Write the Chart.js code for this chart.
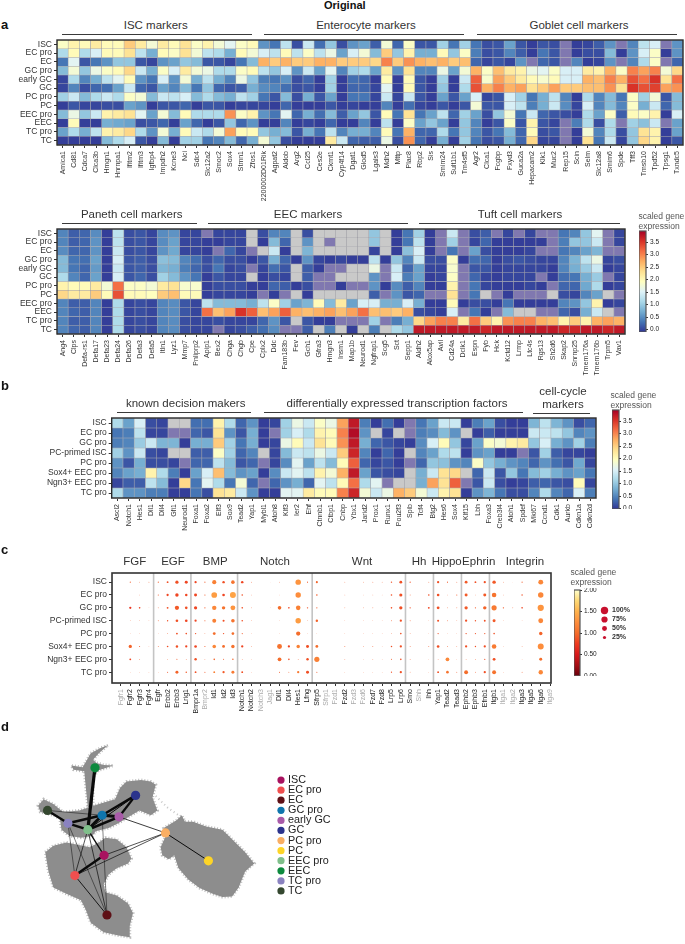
<!DOCTYPE html>
<html>
<head>
  <style>
    body { margin: 0; background: #fff; font-family: "Liberation Sans", Arial, sans-serif; color: #333; }
    #page { position: relative; width: 685px; height: 944px; overflow: hidden; }
    canvas { position: absolute; }
    .note { position: absolute; white-space: nowrap; line-height: 1; }
    .head { font-size: 11.5px; transform: translateX(-50%); }
    .rule { position: absolute; height: 1.4px; background: #3a3a3a; }
    .letter { font-size: 13px; font-weight: bold; color: #111; }
    .cbar { font-size: 8.5px; color: #555; line-height: 10.4px; white-space: pre; }
  </style>
  <script src="https://cdn.jsdelivr.net/npm/chart.js"></script>
</head>
<body>
<div id="page"></div>
<script>
  // G = grey cell (not detected), P = purple cell
  const G = -1, P = -2;

  const cellTypes = ['ISC', 'EC pro', 'EC', 'GC pro', 'early GC', 'GC', 'PC pro', 'PC', 'EEC pro', 'EEC', 'TC pro', 'TC'];
  const progenitors = ['ISC', 'EC pro', 'GC pro', 'PC-primed ISC', 'PC pro', 'Sox4+ EEC pro', 'Ngn3+ EEC pro', 'TC pro'];

  const genesTop = ['Amica1','Cd81','Cdca7','Clca3b','Hmgn1','Hnrnpa1','Ifitm2','Ifitm3','Igfbp4','Impdh2','Kcne3','Nci','Sdc4','Slc12a2','Smoc2','Sox4','Stmn1','Zfos1',
    '2200002D01Rik','Agpat2','Aldob','Arg2','Ccl25','Ces2e','Ckmt1','Cyp4f14','Dgat1','Glod5','Lgals3','Mdh2','Mttp','Plac8','Rbp2','Sis','Smim24','Sult1b1','Tm4sf5',
    'Agr2','Clca1','Fcgbp','Fxyd3','Guca2a','Hepacam2','Klk1','Muc2','Rep15','Scin','Selm','Slc12a8','Smim6','Spde','Tff3','Tmsb10','Tpd52','Tpsg1','Txndc5'];

  const genesBottom = ['Ang4','Clps','Defa-rs1','Defa17','Defa23','Defa24','Defa26','Defa3','Defa5','Itln1','Lyz1','Mmp7','Pnliprp2',
    'Apip1','Bex2','Chga','Chgb','Cpe','Cplx2','Ddc','Fam183b','Fev','Gch1','Gfra3','Hmgn3','Insm1','Map1b','Neurod1','Ngfrap1','Scg5','Sct','Sepp1',
    'Aldh2','Alox5ap','Avil','Cd24a','Dclk1','Espn','Fyb','Hck','Kctd12','Lrmp','Ltc4s','Rgs13','Sh2d6','Skap2','Snrnp25','Tmem176a','Tmem176b','Trpm5','Vav1'];

  const genesB = ['Ascl2','Notch1','Hes1','Dll1','Dll4','Gfi1','Neurod1','Foxa1','Foxa2','Elf3','Sox9','Tead2','Yap1',
    'Mybl1','Atoh8','Klf3','Ier2','Ehf','Ctnnb1','Ctbp1','Cnbp','Ybx1','Jarid2','Prox1','Runx1','Pou2f3','Spib','Tcf4','Btg2','Hes6','Sox4','Klf15','Lbh','Foxa3','Creb3l4','Atoh1','Spdef',
    'Mki67','Ccnd1','Cdk1','Aurkb','Cdkn1a','Cdkn2d'];

  const genesC = ['Fgfr1','Fgfr2','Fgfr3','Fgfr4','Egfr','Erbb2','Erbb3','Lrig1','Bmpr1a','Bmpr2','Id1','Id2','Id3','Notch1','Notch2','Notch3','Jag1','Dll1','Dll4','Hes1','Lfng',
    'Sfrp5','Sfrp1','Fzd1','Fzd2','Fzd3','Fzd6','Fzd7','Fzd8','Lrp5','Lrp6','Smo','Shh','Ihh','Yap1','Tead2','Tead3','Ephb2','Ephb3','Efnb1','Itgb1','Itga1','Itga2','Itga3','Itga5','Itga6','Itga9'];
  const fadedC = ['Fgfr1','Bmpr2','Notch3','Jag1','Sfrp1','Fzd1','Fzd3','Fzd6','Shh','Itga1','Itga2','Itga9'];
  const groupBreaksC = [3.5, 7.5, 12.5, 20.5, 30.5, 33.5, 36.5, 39.5];

  // panel a, upper heatmap: ISC markers | enterocyte markers | goblet markers
  const exprTop = [
    [1.9,2.1,2.0,2.2,2.0,2.0,2.5,2.2,1.8,2.2,2.0,2.3,1.9,2.1,1.8,1.6,1.9,2.0, 0.6,0.4,1.3,0.15,1.4,0.35,1.0,0.15,0.6,0.7,0.25,1.8,0.3,1.9,0.2,0.2,1.1,0.4,1.1, 0.4,0.15,0.2,0.7,0.2,0.05,0.2,0.15,P,0.05,0.1,0.25,0.6,P,0.5,1.3,1.5,P,0.6],
    [1.2,2.0,1.2,1.5,2.0,2.0,2.3,1.3,0.8,2.0,1.9,2.3,1.8,1.3,1.2,0.8,2.0,1.8, 1.5,1.3,2.0,1.3,1.9,1.3,1.7,0.7,1.5,1.8,0.9,2.5,1.0,2.1,0.8,0.8,2.0,1.0,1.9, 0.45,0.15,0.2,0.5,0.25,0.05,0.4,0.2,P,0.05,0.15,0.15,0.9,0.05,0.6,1.5,1.9,0.05,0.6],
    [0.4,1.6,0.2,0.4,0.6,1.0,1.0,0.2,0.1,0.6,0.7,1.0,0.9,0.2,0.2,0.1,0.4,0.9, 2.7,2.5,2.7,2.5,2.5,2.7,2.7,2.5,2.5,2.5,2.4,3.0,2.5,2.9,2.7,2.6,2.7,2.5,2.6, 0.3,0.1,0.2,0.1,0.6,P,0.3,0.2,P,0.5,0.05,0.1,0.6,P,0.5,1.2,1.9,P,0.3],
    [0.9,1.8,1.0,1.7,1.9,2.0,2.4,1.4,0.8,1.9,1.5,2.2,1.8,1.7,1.2,1.2,1.9,2.0, 1.3,1.0,1.5,0.6,1.4,0.7,1.6,0.5,1.1,1.2,0.7,2.2,0.6,2.3,0.5,0.5,1.7,0.7,1.8, 2.7,1.9,2.6,2.2,2.1,1.7,1.6,1.9,1.5,1.5,2.2,2.1,2.7,1.9,3.0,2.8,3.0,1.8,2.4],
    [0.1,1.2,0.5,0.8,1.3,1.6,2.0,0.6,0.4,1.5,0.6,1.8,0.8,1.3,0.8,0.5,1.7,1.0, 0.45,0.4,0.6,0.15,0.3,0.05,1.1,0.05,0.35,0.3,0.05,2.0,0.05,2.0,0.2,0.05,1.1,0.05,1.4, 3.2,1.85,2.8,2.5,2.2,2.0,1.85,2.0,1.5,1.5,2.7,2.6,3.0,2.7,3.3,3.1,3.5,2.3,3.1],
    [0.1,0.5,0.15,0.3,0.35,0.7,1.4,0.3,0.2,0.7,0.5,0.9,0.4,1.0,0.3,0.2,0.25,0.8, 0.55,0.5,0.35,0.15,0.2,0.05,1.1,0.05,0.3,0.3,0.1,1.6,0.05,2.0,0.2,0.05,1.0,0.05,1.2, 3.3,2.7,3.0,2.7,2.8,2.3,2.5,2.8,2.5,2.5,2.6,2.6,2.9,2.3,3.5,3.3,3.4,2.8,2.9],
    [1.1,1.4,0.9,1.2,1.4,1.2,1.9,1.8,0.9,1.4,1.3,1.5,0.9,1.2,0.9,0.8,1.3,1.1, 0.4,0.2,0.9,0.15,0.8,0.2,0.7,0.05,0.4,0.4,0.1,1.4,0.1,1.4,0.2,0.05,0.7,0.2,0.7, 1.5,0.1,0.2,1.5,1.1,0.4,0.8,1.3,0.5,0.05,1.2,0.5,0.9,0.4,1.9,1.1,1.8,0.2,0.9],
    [0.05,0.2,0.1,0.1,0.15,0.15,0.7,0.6,0.05,0.2,0.2,0.3,0.05,0.2,0.2,0.05,0.1,0.1, 0.1,0.05,0.3,0.05,0.05,0.05,0.2,0.05,0.1,0.05,0.05,0.5,0.05,0.35,0.1,0.05,0.2,0.05,0.2, 1.8,0.2,0.2,1.5,1.3,0.45,0.8,1.4,0.55,0.1,1.5,0.5,0.9,0.5,1.9,0.8,1.4,0.3,0.9],
    [0.9,1.7,1.0,1.4,2.1,2.2,2.3,1.6,0.7,1.8,0.9,2.0,1.2,1.2,1.2,2.9,1.9,2.1, 0.6,0.4,1.6,0.3,0.8,0.35,0.9,0.25,0.7,1.0,0.2,2.0,0.4,2.3,0.4,0.7,1.3,0.3,1.1, 0.7,0.15,1.0,1.8,0.4,1.4,0.3,0.2,0.15,0.05,1.2,0.7,1.9,0.25,2.0,1.9,2.1,0.05,1.5],
    [0.05,2.0,0.05,0.05,0.8,0.75,0.7,0.15,0.2,0.3,0.05,0.7,0.3,0.05,0.2,1.0,0.3,0.6, 0.05,0.05,0.5,0.05,0.1,0.05,0.3,0.05,0.05,0.5,0.05,1.3,0.05,1.9,0.7,1.0,0.7,0.05,1.0, 0.5,0.05,0.2,1.9,0.2,2.1,0.2,0.1,P,0.45,1.2,0.15,1.2,P,1.1,0.95,1.4,P,0.7],
    [0.7,1.2,0.8,1.3,2.1,2.2,2.4,1.2,0.6,1.8,0.8,2.0,1.4,1.2,1.8,2.8,2.0,2.0, 1.0,0.8,0.9,0.2,0.8,0.4,1.3,0.5,0.8,0.8,0.5,2.0,0.4,2.7,0.3,0.3,1.2,0.4,1.0, 0.5,0.2,0.4,0.9,0.3,2.0,0.15,0.2,P,0.05,1.8,0.5,1.2,0.15,1.0,2.3,2.1,0.05,0.7],
    [0.05,0.05,0.05,0.05,0.9,1.2,1.5,0.2,0.05,0.9,0.05,1.1,1.1,0.4,0.5,0.9,0.3,0.8, 1.8,1.0,0.15,0.05,0.05,0.05,2.2,1.4,0.3,0.25,0.25,1.7,0.15,2.9,0.3,0.05,0.8,0.05,1.1, 0.4,0.15,0.2,0.8,0.3,2.4,0.1,0.1,P,0.05,2.3,0.4,1.4,0.1,1.0,2.4,2.1,0.05,0.2]
  ];

  // panel a, lower heatmap: Paneth | EEC | tuft markers
  const exprBottom = [
    [0.5,0.25,0.3,0.55,0.05,1.3,0.15,0.2,0.1,0.55,0.6,0.1,0.1, P,0.1,0.1,0.1,G,0.15,0.5,0.5,G,0.15,G,G,G,G,G,1.0,G,0.05,0.4, 1.1,0.05,P,1.4,P,0.15,0.25,P,0.1,P,0.1,P,P,0.4,0.5,1.0,1.6,P,0.1],
    [0.5,0.25,0.3,0.6,0.05,1.3,0.15,0.2,0.1,0.55,0.7,0.1,0.1, 0.05,0.05,0.1,0.1,G,0.05,0.9,0.3,G,0.6,G,P,G,G,G,1.0,G,0.05,0.4, 1.3,0.05,P,1.1,P,0.1,0.3,0.05,0.05,0.05,0.05,0.05,P,0.45,1.0,1.0,1.4,P,0.1],
    [0.55,0.3,0.3,0.6,0.05,1.4,0.15,0.2,0.1,0.6,0.75,0.1,0.1, 0.05,P,0.3,0.1,P,G,1.4,0.05,G,0.85,G,G,G,G,G,0.1,G,0.05,0.95, 1.5,0.05,P,0.4,P,0.7,0.15,0.05,0.05,0.05,0.1,P,P,0.4,0.5,0.7,0.85,P,P],
    [0.9,0.4,0.35,0.7,0.05,1.5,0.2,0.25,0.15,0.95,0.9,0.5,0.35, 0.15,0.3,0.15,0.15,0.05,0.2,0.8,0.3,0.05,0.6,0.1,0.05,0.1,0.05,0.05,1.3,0.05,1.0,0.5, 1.4,0.15,0.15,1.9,0.05,0.35,0.3,0.05,0.15,0.2,0.15,0.1,0.1,0.5,0.85,1.3,1.7,0.1,0.15],
    [0.9,0.4,0.3,0.65,0.05,1.4,0.2,0.25,0.15,0.85,0.8,0.45,0.3, 0.15,0.4,0.1,0.15,P,0.1,0.35,0.2,G,0.25,0.05,P,P,G,G,1.7,P,1.4,0.3, 0.7,0.1,0.1,1.85,P,0.2,0.2,0.05,0.1,0.1,0.1,0.1,0.05,0.5,0.8,1.05,1.4,0.05,0.1],
    [1.2,0.5,0.3,0.7,0.05,1.5,0.2,0.3,0.15,1.1,0.9,0.6,0.4, 0.05,0.2,0.1,0.1,G,0.05,0.15,0.1,G,0.25,P,P,G,G,G,0.6,P,1.5,0.45, 0.7,0.05,0.1,1.9,P,0.3,0.1,0.05,0.1,0.1,0.1,P,0.05,0.35,0.4,0.8,1.05,P,0.1],
    [2.1,2.0,2.0,2.2,1.8,3.1,1.9,1.9,1.8,2.2,2.3,1.85,1.85, 0.05,0.15,0.15,0.15,0.05,0.05,0.3,0.25,0.05,0.15,P,P,0.05,P,P,0.6,0.05,0.55,0.25, 0.5,0.05,0.05,2.1,P,0.4,0.1,0.05,0.05,0.05,0.1,0.05,P,0.3,0.3,0.75,1.2,0.05,0.1],
    [2.4,2.2,2.2,2.5,2.0,3.3,2.0,2.0,1.95,2.5,2.6,2.0,2.0, 0.05,0.1,0.1,0.1,0.05,P,0.05,P,G,0.05,G,G,G,G,G,0.25,P,0.6,0.2, 0.3,P,P,2.3,P,0.4,G,P,0.05,P,P,P,G,0.15,0.1,0.5,0.7,G,P],
    [0.5,0.25,0.25,0.5,0.05,1.2,0.1,0.15,0.1,0.5,0.55,0.2,0.1, 1.3,0.9,0.9,0.9,0.8,1.3,1.9,1.1,0.7,0.85,2.0,0.9,2.2,0.7,1.5,1.5,0.8,0.8,1.5, 0.8,0.05,0.05,2.0,0.05,0.15,0.15,0.05,0.4,0.05,0.05,0.05,0.05,0.5,0.6,1.0,2.1,0.05,0.1],
    [0.5,0.3,0.25,0.5,0.05,1.2,0.1,0.15,0.1,0.5,0.55,0.2,0.1, 3.1,2.6,2.8,3.5,3.2,2.6,2.8,3.2,2.7,2.6,2.7,2.8,2.6,2.8,3.1,2.6,2.6,2.5,2.7, 0.15,0.1,0.05,1.5,P,0.4,0.05,P,0.9,G,G,P,P,0.3,0.15,0.8,1.4,G,P],
    [0.5,0.25,0.25,0.5,0.05,1.2,0.1,0.15,0.1,0.5,0.55,0.15,0.1, 0.1,0.15,0.1,0.1,0.1,0.3,0.6,0.2,G,0.2,0.05,0.05,P,P,P,1.1,P,0.45,0.8, 2.4,2.8,3.0,3.0,2.2,3.1,2.5,2.1,2.9,3.0,3.0,2.7,2.6,2.1,2.5,2.1,2.7,2.8,2.7],
    [0.5,0.3,0.25,0.5,0.05,1.2,0.1,0.15,0.1,0.5,0.55,0.15,0.1, 0.1,P,0.1,0.15,0.25,0.35,0.55,P,P,0.25,G,0.45,G,0.05,G,0.45,G,1.2,1.0, 3.7,3.7,3.7,3.7,3.7,3.7,3.6,3.7,3.7,3.7,3.7,3.7,3.7,3.6,3.6,3.7,3.7,3.6,3.7]
  ];

  // panel b: decision makers | transcription factors | cell-cycle
  const exprB = [
    [1.2,0.7,1.5,0.15,0.1,G,G,0.35,0.35,2.1,1.2,0.3,0.6, 0.05,0.1,1.1,1.7,1.4,1.9,1.7,2.8,3.7,0.45,0.05,0.35,0.05,P,0.4,0.7,1.4,1.4,0.05,0.45,0.7,0.15,0.05,0.05, 0.85,1.3,0.85,0.6,0.15,0.3],
    [0.4,0.45,1.3,0.1,0.1,P,P,0.3,0.2,2.3,0.6,0.2,0.8, 0.05,P,1.1,1.5,1.2,2.1,2.0,3.0,3.8,0.6,G,0.1,G,P,0.45,0.55,0.9,0.6,G,0.05,0.25,0.05,0.05,0.05, 1.4,1.4,1.3,1.0,0.5,0.6],
    [0.45,0.5,1.05,1.4,0.85,0.85,0.05,0.8,0.8,2.5,1.1,0.4,0.8, 0.05,0.1,1.7,2.0,1.4,2.3,2.0,2.9,3.7,0.8,0.3,0.2,0.1,0.05,0.55,1.5,2.0,1.0,0.1,0.7,1.9,1.8,2.1,2.2, 1.0,1.5,0.8,0.6,1.1,0.45],
    [1.1,0.6,1.4,0.15,0.1,G,G,0.25,0.25,1.9,1.1,0.3,0.5, G,0.1,0.9,1.4,1.3,1.7,1.4,2.5,3.6,0.5,0.05,0.3,0.05,G,0.5,0.7,1.2,1.3,0.05,0.6,0.7,0.05,0.05,P, 0.2,1.1,0.25,0.1,0.1,0.05],
    [0.6,0.2,0.8,0.15,0.15,0.1,P,0.3,0.3,1.3,0.9,0.2,0.3, P,0.1,0.55,1.6,0.7,1.3,0.9,2.0,3.2,0.3,0.1,0.2,0.05,P,0.3,1.0,0.95,0.6,0.5,1.9,1.0,0.8,0.6,0.5, 0.3,0.6,0.35,0.2,0.75,0.1],
    [0.5,0.7,0.8,2.1,1.2,0.45,0.05,0.7,1.5,2.6,0.9,0.6,0.7, 0.05,0.55,1.4,1.6,1.3,2.1,1.8,2.7,3.7,0.7,0.2,0.15,0.1,G,0.8,1.4,2.3,2.4,G,0.3,1.4,0.2,1.0,0.4, 0.9,1.1,0.8,0.6,0.7,0.4],
    [0.1,0.25,0.25,1.3,0.9,0.05,2.4,0.4,1.6,1.2,0.4,1.8,0.3, P,0.3,0.6,0.8,0.3,1.6,1.3,2.0,3.1,1.2,1.6,P,G,G,0.8,2.8,2.3,3.2,P,0.2,1.4,0.15,0.05,0.1, 0.25,0.3,0.2,0.15,2.0,0.1],
    [1.2,0.6,0.6,0.45,0.45,0.05,0.05,0.4,0.15,2.3,2.2,1.4,0.6, 0.05,0.05,1.6,1.6,2.2,2.0,2.0,3.0,3.6,1.8,1.4,1.7,2.7,2.5,1.8,1.4,2.1,2.3,0.05,0.6,0.85,0.4,0.15,0.15, 0.5,1.2,0.5,0.3,1.5,0.45]
  ];

  // panel c: percent of cells expressing
  const pctC = [
    [0,4,2,3, 4,10,25,22, 14,4,38,16,30, 16,3,0,1,2,0,60,4, 12,0,0,2,0,2,3,2,6,20, 5,0,3, 14,4,3, 20,10,14, 28,2,1,4,0,50,0],
    [0,0,2,0, 4,14,28,16, 22,5,65,18,70, 8,2,0,0,1,0,60,0, 8,0,0,2,0,1,2,1,8,24, 3,0,8, 18,2,4, 22,2,22, 45,2,0,6,0,60,0],
    [0,14,8,1, 3,10,40,18, 25,5,42,28,50, 8,2,0,1,30,8,45,6, 5,0,0,2,0,2,3,1,8,26, 6,0,10, 20,3,3, 26,5,28, 55,6,3,8,0,75,0],
    [0,2,2,1, 3,6,18,18, 14,4,35,12,30, 8,2,0,0,1,0,60,2, 16,0,0,1,0,1,1,1,3,14, 3,0,1, 12,3,2, 14,6,10, 22,1,0,1,0,50,0],
    [0,1,1,0, 1,3,10,8, 6,2,20,6,18, 4,1,0,0,1,0,40,1, 1,0,0,1,0,1,1,1,2,8, 2,0,1, 5,1,1, 6,5,5, 8,0,0,0,0,28,0],
    [0,25,4,1, 3,8,16,14, 18,4,30,20,28, 14,2,0,0,50,14,28,22, 20,0,0,3,0,2,3,1,7,14, 3,0,3, 18,3,2, 14,6,14, 45,1,0,2,0,70,0],
    [0,10,3,0, 0,2,4,3, 16,2,8,4,7, 2,1,0,0,32,8,3,16, 55,0,0,2,0,1,2,1,4,8, 3,0,1, 2,32,1, 2,3,5, 20,0,0,1,0,22,0],
    [0,1,1,1, 1,4,22,7, 10,4,10,14,22, 10,1,0,0,4,3,14,22, 4,0,0,1,0,1,1,1,5,14, 2,0,1, 10,18,3, 34,3,14, 35,1,0,3,0,42,0]
  ];

  // panel c: scaled expression of each dot
  const valC = [
    [0,.9,.9,.9, .9,.85,.85,.8, .8,.9,1.15,.85,1.05, .8,.9,0,.9,.9,0,1.3,.9, .95,0,0,.9,0,.9,.9,.9,.85,.85, .85,0,.9, .85,.9,.9, .9,.85,.85, .9,.9,.9,.9,0,1.2,0],
    [0,0,.9,0, .9,.8,.8,.8, .8,.9,1.35,.8,1.4, .85,.9,0,0,.9,0,1.25,0, .9,0,0,.9,0,.9,.9,.9,.85,.85, .9,0,.85, .85,.9,.9, .9,.9,.9, 1.05,.9,0,.85,0,1.2,0],
    [0,.7,.8,.9, .9,.85,.9,.85, .8,.9,1.2,1.05,1.3, .85,.9,0,.9,1.0,.8,1.15,.85, .9,0,0,.9,0,.9,.9,.9,.85,.85, .85,0,.8, .85,.9,.9, .9,.9,.95, 1.1,.9,.9,.8,0,1.3,0],
    [0,.9,.9,.9, .9,.85,.85,.8, .8,.9,1.15,.85,1.05, .85,.9,0,0,.9,0,1.35,.9, .95,0,0,.9,0,.9,.9,.9,.9,.85, .9,0,.9, .85,.9,.9, .85,.85,.85, .9,.9,0,.9,0,1.2,0],
    [0,.9,.9,0, .9,.9,.85,.85, .85,.9,1.0,.85,1.0, .9,.9,0,0,.9,0,1.0,.9, .9,0,0,.9,0,.9,.9,.9,.9,.85, .9,0,.9, .85,.9,.9, .85,.85,.85, .85,0,0,0,0,.95,0],
    [0,.95,.9,.9, .9,.85,.85,.8, .8,.9,1.2,1.0,1.05, .8,.9,0,0,1.05,.8,1.15,.85, 1.0,0,0,.9,0,.9,.9,.9,.85,.85, .9,0,.9, .85,.9,.9, .85,.85,.85, 1.1,.9,0,.9,0,1.25,0],
    [0,.8,.9,0, 0,.9,.9,.9, .85,.9,.95,.9,.95, .9,.9,0,0,1.0,.85,.9,.85, 1.15,0,0,.9,0,.9,.9,.9,.9,.85, .9,0,.9, .9,1.2,.9, .9,.9,.85, .85,0,0,.9,0,1.0,0],
    [0,.9,.9,.9, .9,.85,.95,.9, .85,.9,1.15,.9,1.1, .85,.9,0,0,.9,.9,1.1,.85, .9,0,0,.9,0,.9,.9,.9,.85,.85, .9,0,.9, .85,1.05,.9, 1.0,.9,.85, 1.05,.9,0,.9,0,1.2,0]
  ];

  const cbarHeatTicks = [0, 0.5, 1, 1.5, 2, 2.5, 3, 3.5];
  const cbarDotTicks = [0, 0.5, 1, 1.5, 2];
  const legendPct = [100, 75, 50, 25];

  // panel d: positions
  const nodeColors = ['#a8125f','#ef4f4f','#5e1016','#0f75ad','#a85aa8','#2b338c','#f9ae63','#fdd427','#7fbf8a','#0d8a3e','#8a82c0','#34472f'];
  const nodeX = [306, 216, 315, 300, 352, 403, 495, 627, 256, 278, 195, 132];
  const nodeY = [470, 533, 656, 345, 350, 283, 400, 487, 390, 197, 370, 330];
  // from node, to node, weight
  const edges = [
    ['EEC','EEC pro',3.2], ['TC','TC pro',2.4], ['TC pro','EEC pro',2.4], ['TC pro','GC pro',2.6], ['EEC pro','GC pro',3],
    ['EEC pro','early GC',2.6], ['GC pro','early GC',3], ['GC pro','GC',2.4], ['early GC','GC',2.4], ['EEC pro','GC',1],
    ['ISC','EC pro',2.4], ['ISC','EEC pro',1.3], ['ISC','PC pro',.7], ['EC pro','PC pro',.7], ['PC pro','PC',1],
    ['PC pro','early GC',.8], ['TC','GC pro',.5], ['EC pro','EC',.9], ['EC pro','TC pro',.5], ['EC pro','EEC pro',.7],
    ['EC','EEC pro',.7], ['EC','TC pro',.5], ['EC','GC pro',.5]
  ];
  const cloudLower = [[125,460],[150,440],[190,430],[240,440],[262,445],[290,430],[310,415],[345,420],[375,445],[390,480],[380,495],[345,510],[320,530],[305,560],[310,585],[345,595],[380,620],[395,650],[385,690],[385,725],[350,720],[305,710],[265,680],[250,640],[235,610],[190,590],[150,570],[135,520],[125,460]];
  const cloudUpper = [[355,260],[375,240],[420,235],[450,240],[465,250],[455,290],[470,330],[450,345],[415,330],[390,345],[350,370],[320,385],[280,395],[270,410],[235,415],[200,410],[175,390],[170,355],[150,345],[110,335],[103,315],[120,295],[150,310],[180,335],[230,330],[290,310],[340,295],[355,260]];
  const cloudStem = [[318,127],[295,135],[265,152],[250,178],[240,195],[205,190],[212,203],[245,208],[250,260],[256,320],[272,320],[272,225],[290,205],[335,190],[305,188],[283,182],[272,172],[290,152],[318,127]];
  const cloudRight = [[480,445],[500,400],[490,385],[530,360],[545,345],[555,365],[580,365],[620,380],[670,390],[700,420],[740,460],[768,495],[740,520],[720,570],[700,598],[670,600],[640,590],[600,572],[565,545],[535,510],[522,470],[505,482],[485,470],[480,445]];
  const cloudStrip = [[465,285],[500,320],[535,345]];

  const page = document.getElementById('page');
  const FONT = '"Liberation Sans", Arial, sans-serif';
  const INK = '#333';

  function note(cls, text, x, y) {
    const d = document.createElement('div');
    d.className = 'note ' + cls;
    d.textContent = text;
    d.style.left = x + 'px';
    d.style.top = y + 'px';
    page.appendChild(d);
  }
  function rule(x0, x1, y) {
    const d = document.createElement('div');
    d.className = 'rule';
    d.style.left = x0 + 'px';
    d.style.width = (x1 - x0) + 'px';
    d.style.top = y + 'px';
    page.appendChild(d);
  }
  function header(text, cx, y, x0, x1) {
    note('head', text, cx, y);
    if (x0 !== undefined) rule(x0, x1, y + 13.5);
  }

  function mix(stops, t) {
    t = Math.max(0, Math.min(1, t)) * (stops.length - 1);
    const i = Math.min(Math.floor(t), stops.length - 2), f = t - i;
    const c = [1, 3, 5].map(k => {
      const a = parseInt(stops[i].substr(k, 2), 16), b = parseInt(stops[i + 1].substr(k, 2), 16);
      return Math.round(a + (b - a) * f);
    });
    return `rgb(${c[0]},${c[1]},${c[2]})`;
  }
  const HEAT = ['#313695','#4575b4','#74add1','#abd9e9','#e0f3f8','#ffffbf','#fee090','#fdae61','#f46d43','#d73027','#a50026'];
  const DOT = ['#67000d','#a50f15','#d7191c','#ee3b20','#f46d2b','#fd8d3c','#feb24c','#fed976','#ffffcc'];
  function heatColor(v) {
    if (v === G) return '#c9c9c9';
    if (v === P) return '#8078b0';
    return mix(HEAT, v / 3.9);
  }
  const dotColor = v => mix(DOT, v / 2);
  const dotRadius = p => p <= 0 ? 0 : 3.7 * Math.pow(p / 100, 0.6);

  const framePlugin = {
    id: 'frame',
    afterDraw(chart, args, opts) {
      if (!opts.width) return;
      const a = chart.chartArea, ctx = chart.ctx;
      ctx.save();
      ctx.strokeStyle = opts.color;
      ctx.lineWidth = opts.width;
      ctx.strokeRect(a.left, a.top, a.right - a.left, a.bottom - a.top);
      ctx.restore();
    }
  };

  // stops tick labels from insetting the plot area
  function noPad(s) {
    s.paddingLeft = s.paddingRight = s.paddingTop = s.paddingBottom = 0;
  }
  function fixHeight(h) {
    return s => { s.height = h; noPad(s); };
  }
  function fixWidth(w) {
    return s => { s.width = w; noPad(s); };
  }

  // canvas placed so that the plot area lands exactly on (x0,y0)-(x1,y1)
  function place(x0, y0, x1, y1, left, bottom, right) {
    const c = document.createElement('canvas');
    c.style.left = (x0 - left) + 'px';
    c.style.top = (y0 - 2) + 'px';
    c.width = left + (x1 - x0) + right;
    c.height = (y1 - y0) + 2 + bottom;
    page.appendChild(c);
    return c;
  }
  function base(right) {
    return {
      responsive: false,
      animation: false,
      layout: { padding: { top: 2, right: right, left: 0, bottom: 0 } },
      plugins: { legend: { display: false }, tooltip: { enabled: false }, frame: { width: 0 } },
      events: []
    };
  }

  function heatmap(box, rows, genes, matrix) {
    const [x0, y0, x1, y1] = box, left = x0, bottom = 72, right = 2;
    const opts = base(right);
    opts.plugins.frame = { width: 1.4, color: '#2b2b2b' };
    opts.scales = {
      x: {
        stacked: true,
        grid: { drawOnChartArea: false, offset: false, color: INK, tickLength: 3 },
        ticks: { autoSkip: false, minRotation: 90, maxRotation: 90, padding: 3, color: INK, font: { size: 7, family: FONT } },
        afterFit: fixHeight(bottom)
      },
      y: {
        stacked: true, reverse: true, min: 0, max: rows.length,
        afterBuildTicks: s => { s.ticks = rows.map((r, i) => ({ value: i + 0.5 })); },
        grid: { drawOnChartArea: false, color: INK, tickLength: 3 },
        ticks: { autoSkip: false, callback: v => rows[v - 0.5], padding: 2, color: INK, font: { size: 8.5, family: FONT } },
        afterFit: fixWidth(left)
      }
    };
    new Chart(place(x0, y0, x1, y1, left, bottom, right), {
      type: 'bar',
      data: {
        labels: genes,
        datasets: matrix.map(row => ({
          data: row.map(() => 1),
          backgroundColor: row.map(heatColor),
          borderColor: 'rgba(120,120,130,0.55)',
          borderWidth: 0.6,
          borderSkipped: false,
          barPercentage: 1,
          categoryPercentage: 1
        }))
      },
      options: opts,
      plugins: [framePlugin]
    });
  }

  function colorBar(box, lo, hi, ticks, stops, fmt) {
    const [x0, y0, x1, y1] = box, right = 24;
    const opts = base(0);
    opts.plugins.frame = { width: 1.2, color: '#555' };
    opts.scales = {
      x: { display: false },
      y: {
        position: 'right', min: lo, max: hi,
        afterBuildTicks: s => { s.ticks = ticks.map(v => ({ value: v })); },
        grid: { drawOnChartArea: false, color: INK, tickLength: 2 },
        border: { display: false },
        ticks: { autoSkip: false, callback: fmt, padding: 2, color: '#222', font: { size: 6.5, family: FONT } },
        afterFit: fixWidth(right)
      }
    };
    new Chart(place(x0, y0, x1, y1, 0, 2, right), {
      type: 'bar',
      data: {
        labels: [''],
        datasets: [{
          data: [[lo, hi]],
          barPercentage: 1,
          categoryPercentage: 1,
          backgroundColor: ctx => {
            const a = ctx.chart.chartArea;
            if (!a) return stops[0];
            const g = ctx.chart.ctx.createLinearGradient(0, a.bottom, 0, a.top);
            stops.forEach((s, i) => g.addColorStop(i / (stops.length - 1), s));
            return g;
          }
        }]
      },
      options: opts,
      plugins: [framePlugin]
    });
  }

  // vertical list of coloured dots, names on the axis beside them
  function dotList(box, names, radii, colors, labelFont, labelColor, pad) {
    const [x0, y0, x1, y1] = box, right = 60;
    const opts = base(0);
    opts.scales = {
      x: { display: false, min: 0, max: 1 },
      y: {
        position: 'right', reverse: true, min: -0.5, max: names.length - 0.5,
        afterBuildTicks: s => { s.ticks = names.map((n, i) => ({ value: i })); },
        grid: { display: false, drawTicks: false },
        border: { display: false },
        ticks: { autoSkip: false, callback: v => names[v], padding: pad, color: labelColor, font: labelFont },
        afterFit: fixWidth(right)
      }
    };
    new Chart(place(x0, y0, x1, y1, 0, 2, right), {
      type: 'scatter',
      data: {
        datasets: [{
          data: names.map((n, i) => ({ x: 0.5, y: i })),
          pointRadius: radii,
          pointBackgroundColor: colors,
          pointBorderWidth: 0,
          clip: false
        }]
      },
      options: opts
    });
  }

  // ---------- panel a ----------
  note('', 'Original', 324, 0);
  page.lastChild.style.cssText += 'font-size:11px;font-weight:bold;color:#111;';
  note('letter', 'a', 1, 18);
  header('ISC markers', 155.7, 20, 62, 252);
  header('Enterocyte markers', 366, 20, 264, 464);
  header('Goblet cell markers', 579, 20, 477, 677);
  heatmap([57, 40, 683, 145.5], cellTypes, genesTop, exprTop);

  header('Paneth cell markers', 131.7, 209, 62, 197);
  header('EEC markers', 308, 209, 208, 408);
  header('Tuft cell markers', 520, 209, 419, 620);
  heatmap([57, 228.5, 625, 334], cellTypes, genesBottom, exprBottom);

  note('cbar', 'scaled gene\nexpression', 638.5, 211);
  colorBar([639, 230.5, 646, 329.5], -0.1, 3.95, cbarHeatTicks, HEAT, v => v.toFixed(1));

  // ---------- panel b ----------
  note('letter', 'b', 1, 379);
  header('known decision makers', 185.7, 398, 117, 251);
  header('differentially expressed transcription factors', 397, 398, 264, 523);
  header('cell-cycle', 563, 386);
  header('markers', 563, 399, 533, 590);
  heatmap([111.7, 417.7, 596.7, 497.7], progenitors, genesB, exprB);

  note('cbar', 'scaled gene\nexpression', 610.5, 390);
  colorBar([612, 410, 619, 507.5], -0.02, 3.95, cbarHeatTicks, HEAT, v => v.toFixed(1));

  // ---------- panel c ----------
  note('letter', 'c', 1, 543);
  [['FGF', 134.7], ['EGF', 173], ['BMP', 215.3], ['Notch', 275], ['Wnt', 362], ['Hh', 419], ['Hippo', 446.7], ['Ephrin', 478.7], ['Integrin', 525]]
    .forEach(h => header(h[0], h[1], 556));

  (function dotPlot() {
    const x0 = 112, y0 = 571, x1 = 553, y1 = 683, left = x0, bottom = 46;
    const opts = base(2);
    opts.plugins.frame = { width: 1.6, color: '#333' };
    opts.scales = {
      x: {
        type: 'linear', min: -0.96, max: 46.1,
        afterBuildTicks: s => { s.ticks = genesC.map((g, i) => ({ value: i })); },
        grid: { drawOnChartArea: false, color: INK, tickLength: 3 },
        ticks: {
          autoSkip: false, minRotation: 90, maxRotation: 90, padding: 3,
          callback: v => genesC[v],
          color: ctx => fadedC.includes(genesC[ctx.tick.value]) ? '#aaa' : '#222',
          font: { size: 7, family: FONT }
        },
        afterFit: fixHeight(bottom)
      },
      y: {
        reverse: true, min: -0.71, max: 7.84,
        afterBuildTicks: s => { s.ticks = progenitors.map((p, i) => ({ value: i })); },
        grid: { drawOnChartArea: false, color: INK, tickLength: 3 },
        ticks: { autoSkip: false, callback: v => progenitors[v], padding: 2, color: INK, font: { size: 8.5, family: FONT } },
        afterFit: fixWidth(left)
      }
    };
    const points = [], radii = [], colors = [];
    pctC.forEach((row, y) => row.forEach((p, x) => {
      if (p > 0) {
        points.push({ x: x, y: y });
        radii.push(dotRadius(p));
        colors.push(dotColor(valC[y][x]));
      }
    }));
    const breaks = groupBreaksC.map(x => ({
      data: [{ x: x, y: -0.71 }, { x: x, y: 7.84 }],
      showLine: true,
      borderColor: '#c4c4c4',
      borderWidth: 1.6,
      pointRadius: 0
    }));
    new Chart(place(x0, y0, x1, y1, left, bottom, 2), {
      type: 'scatter',
      data: { datasets: [{ data: points, pointRadius: radii, pointBackgroundColor: colors, pointBorderWidth: 0 }].concat(breaks) },
      options: opts,
      plugins: [framePlugin]
    });
  })();

  note('cbar', 'scaled gene\nexpression', 570.5, 567);
  colorBar([573.5, 590, 580, 674.7], 0, 2, cbarDotTicks, DOT, v => v.toFixed(2));
  dotList([597, 604.3, 608, 644.3], legendPct.map(p => p + '%'), legendPct.map(dotRadius), '#c8102e',
    { size: 7, weight: 'bold', family: FONT }, '#333', 4);

  // ---------- panel d ----------
  note('letter', 'd', 1, 720);
  (function umap() {
    const opts = base(0);
    opts.layout.padding = 0;
    opts.scales = { x: { display: false, min: 0, max: 1110 }, y: { display: false, reverse: true, min: 0, max: 732 } };
    const xy = a => a.map(p => ({ x: p[0], y: p[1] }));
    const clouds = [cloudLower, cloudUpper, cloudStem, cloudRight].map(c => ({
      data: xy(c), showLine: true, fill: 'shape',
      backgroundColor: '#8d8d8d', borderColor: 'rgba(141,141,141,0.6)', borderWidth: 3, borderDash: [1, 2], pointRadius: 0
    }));
    const strip = {
      data: xy(cloudStrip), showLine: true, borderColor: 'rgba(141,141,141,0.5)', borderWidth: 2, borderDash: [1, 3], pointRadius: 0
    };
    const at = n => { const i = cellTypes.indexOf(n); return { x: nodeX[i], y: nodeY[i] }; };
    const links = edges.map(e => ({
      data: [at(e[0]), at(e[1])], showLine: true, borderColor: '#0a0a0a', borderWidth: e[2], pointRadius: 0
    }));
    const nodes = {
      data: cellTypes.map(n => at(n)), pointRadius: 4.6, pointBackgroundColor: nodeColors, pointBorderWidth: 0
    };
    const c = document.createElement('canvas');
    c.style.left = '0px'; c.style.top = '700px'; c.width = 370; c.height = 244;
    page.appendChild(c);
    // first dataset is painted last
    new Chart(c, { type: 'scatter', data: { datasets: [nodes].concat(links, clouds, [strip]) }, options: opts });
  })();
  dotList([270, 773, 288, 898], cellTypes, cellTypes.map(() => 3.6), nodeColors, { size: 10.8, family: FONT }, '#222', 0);
</script>
</body>
</html>
